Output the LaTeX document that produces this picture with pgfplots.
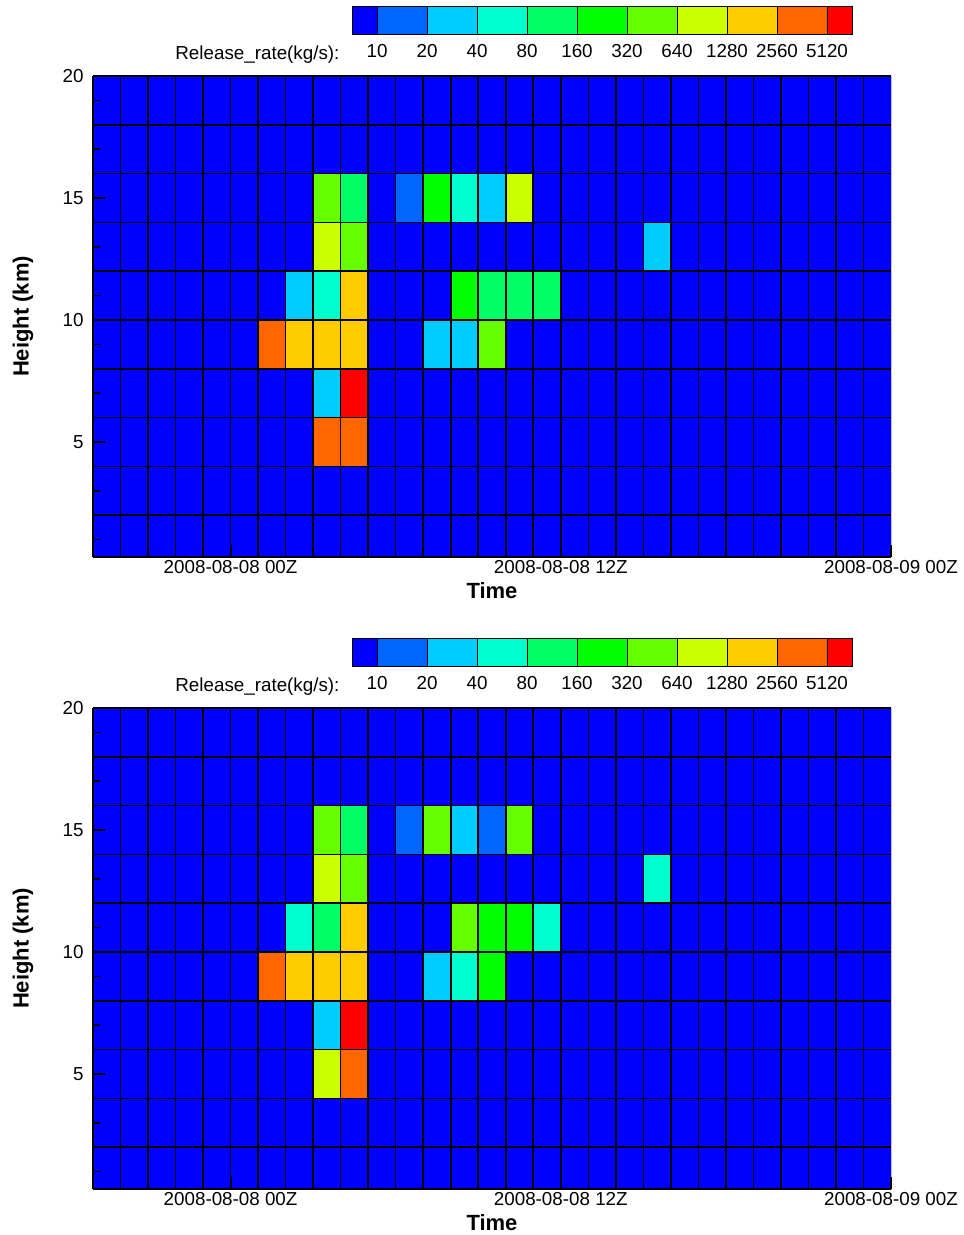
\documentclass[border=0pt]{standalone}
\usepackage{pgfplots}
\pgfplotsset{compat=1.18}
\usepackage{fontspec}
\setmainfont{Liberation Sans}

% release-rate classes: 0 = <10, k = 10*2^(k-1) .. 10*2^k kg/s, 10 = >5120
\pgfplotsset{
  relmap/.style={
    colormap={rel}{rgb255=(0,0,255) rgb255=(0,102,255) rgb255=(0,204,255)
      rgb255=(0,255,204) rgb255=(0,255,102) rgb255=(0,255,0) rgb255=(102,255,0)
      rgb255=(204,255,0) rgb255=(255,204,0) rgb255=(255,102,0) rgb255=(255,0,0)},
    colormap access=direct},
  mainax/.style={
    relmap,
    width=798pt, height=481pt, scale only axis,
    xmin=-5, xmax=24, ymin=0.29, ymax=20,
    axis x line=bottom, axis y line=left,
    axis line style={-, line width=2pt, black},
    tick align=inside,
    xtick={0,12,24},
    xticklabels={2008-08-08 00Z, 2008-08-08 12Z, 2008-08-09 00Z},
    minor xtick={-4,-2,...,22},
    ytick={5,10,15,20}, yticklabels={5,10,15,20},
    minor ytick={1,2,...,19},
    major tick length=12pt, minor tick length=6.5pt,
    every major tick/.append style={line width=2pt, black},
    every minor tick/.append style={line width=1.5pt, black},
    extra x ticks={-4,-3,...,23}, extra y ticks={2,4,...,20},
    extra x tick labels={}, extra y tick labels={},
    extra tick style={grid=major, major tick length=0pt},
    major grid style={black, line width=1.6pt},
    axis on top,
    tick label style={font=\fontsize{18.8}{22}\selectfont},
    /pgf/number format/assume math mode=true,
    yticklabel style={xshift=-6pt},
    xlabel={Time}, ylabel={Height (km)},
    xlabel style={font=\bfseries\fontsize{22}{26}\selectfont,
      at={(axis description cs:0.5,-0.0696)}, anchor=center},
    ylabel style={font=\bfseries\fontsize{22}{26}\selectfont,
      at={(axis description cs:-0.0877,0.5)}, anchor=center},
  },
  cbar/.style={
    relmap,
    width=500pt, height=28pt, scale only axis,
    xmin=0.5, xmax=10.5, ymin=0, ymax=1,
    xtick={1,...,10},
    xticklabels={10,20,40,80,160,320,640,1280,2560,5120},
    ytick=\empty, major tick length=0pt,
    xmajorgrids, major grid style={black, line width=1pt},
    axis line style={line width=1pt, black},
    axis on top,
    tick label style={font=\fontsize{18.8}{22}\selectfont},
    xticklabel style={yshift=-5.5pt},
  },
}

\begin{document}
\begin{tikzpicture}
\useasboundingbox (0pt,0pt) rectangle (964pt,1235pt);

% ---------------- upper panel ----------------
\begin{axis}[cbar, at={(352pt,1200pt)}, anchor=south west]
\addplot[matrix plot*, mesh/cols=11, point meta=explicit] coordinates {
(0.5,0.25)[0] (1.5,0.25)[1] (2.5,0.25)[2] (3.5,0.25)[3] (4.5,0.25)[4] (5.5,0.25)[5] (6.5,0.25)[6] (7.5,0.25)[7] (8.5,0.25)[8] (9.5,0.25)[9] (10.5,0.25)[10]
(0.5,0.75)[0] (1.5,0.75)[1] (2.5,0.75)[2] (3.5,0.75)[3] (4.5,0.75)[4] (5.5,0.75)[5] (6.5,0.75)[6] (7.5,0.75)[7] (8.5,0.75)[8] (9.5,0.75)[9] (10.5,0.75)[10]
};
\end{axis}
\node[anchor=base east, font=\fontsize{18.8}{22}\selectfont] at (343pt,1175pt) {Release\_rate(kg/s):};

\begin{axis}[mainax, at={(93pt,678pt)}, anchor=south west]
\addplot[matrix plot*, mesh/cols=29, point meta=explicit] coordinates {
(-4.5,1)[0] (-3.5,1)[0] (-2.5,1)[0] (-1.5,1)[0] (-0.5,1)[0] (0.5,1)[0] (1.5,1)[0] (2.5,1)[0] (3.5,1)[0] (4.5,1)[0] (5.5,1)[0] (6.5,1)[0] (7.5,1)[0] (8.5,1)[0] (9.5,1)[0] (10.5,1)[0] (11.5,1)[0] (12.5,1)[0] (13.5,1)[0] (14.5,1)[0] (15.5,1)[0] (16.5,1)[0] (17.5,1)[0] (18.5,1)[0] (19.5,1)[0] (20.5,1)[0] (21.5,1)[0] (22.5,1)[0] (23.5,1)[0]
(-4.5,3)[0] (-3.5,3)[0] (-2.5,3)[0] (-1.5,3)[0] (-0.5,3)[0] (0.5,3)[0] (1.5,3)[0] (2.5,3)[0] (3.5,3)[0] (4.5,3)[0] (5.5,3)[0] (6.5,3)[0] (7.5,3)[0] (8.5,3)[0] (9.5,3)[0] (10.5,3)[0] (11.5,3)[0] (12.5,3)[0] (13.5,3)[0] (14.5,3)[0] (15.5,3)[0] (16.5,3)[0] (17.5,3)[0] (18.5,3)[0] (19.5,3)[0] (20.5,3)[0] (21.5,3)[0] (22.5,3)[0] (23.5,3)[0]
(-4.5,5)[0] (-3.5,5)[0] (-2.5,5)[0] (-1.5,5)[0] (-0.5,5)[0] (0.5,5)[0] (1.5,5)[0] (2.5,5)[0] (3.5,5)[9] (4.5,5)[9] (5.5,5)[0] (6.5,5)[0] (7.5,5)[0] (8.5,5)[0] (9.5,5)[0] (10.5,5)[0] (11.5,5)[0] (12.5,5)[0] (13.5,5)[0] (14.5,5)[0] (15.5,5)[0] (16.5,5)[0] (17.5,5)[0] (18.5,5)[0] (19.5,5)[0] (20.5,5)[0] (21.5,5)[0] (22.5,5)[0] (23.5,5)[0]
(-4.5,7)[0] (-3.5,7)[0] (-2.5,7)[0] (-1.5,7)[0] (-0.5,7)[0] (0.5,7)[0] (1.5,7)[0] (2.5,7)[0] (3.5,7)[2] (4.5,7)[10] (5.5,7)[0] (6.5,7)[0] (7.5,7)[0] (8.5,7)[0] (9.5,7)[0] (10.5,7)[0] (11.5,7)[0] (12.5,7)[0] (13.5,7)[0] (14.5,7)[0] (15.5,7)[0] (16.5,7)[0] (17.5,7)[0] (18.5,7)[0] (19.5,7)[0] (20.5,7)[0] (21.5,7)[0] (22.5,7)[0] (23.5,7)[0]
(-4.5,9)[0] (-3.5,9)[0] (-2.5,9)[0] (-1.5,9)[0] (-0.5,9)[0] (0.5,9)[0] (1.5,9)[9] (2.5,9)[8] (3.5,9)[8] (4.5,9)[8] (5.5,9)[0] (6.5,9)[0] (7.5,9)[2] (8.5,9)[2] (9.5,9)[6] (10.5,9)[0] (11.5,9)[0] (12.5,9)[0] (13.5,9)[0] (14.5,9)[0] (15.5,9)[0] (16.5,9)[0] (17.5,9)[0] (18.5,9)[0] (19.5,9)[0] (20.5,9)[0] (21.5,9)[0] (22.5,9)[0] (23.5,9)[0]
(-4.5,11)[0] (-3.5,11)[0] (-2.5,11)[0] (-1.5,11)[0] (-0.5,11)[0] (0.5,11)[0] (1.5,11)[0] (2.5,11)[2] (3.5,11)[3] (4.5,11)[8] (5.5,11)[0] (6.5,11)[0] (7.5,11)[0] (8.5,11)[5] (9.5,11)[4] (10.5,11)[4] (11.5,11)[4] (12.5,11)[0] (13.5,11)[0] (14.5,11)[0] (15.5,11)[0] (16.5,11)[0] (17.5,11)[0] (18.5,11)[0] (19.5,11)[0] (20.5,11)[0] (21.5,11)[0] (22.5,11)[0] (23.5,11)[0]
(-4.5,13)[0] (-3.5,13)[0] (-2.5,13)[0] (-1.5,13)[0] (-0.5,13)[0] (0.5,13)[0] (1.5,13)[0] (2.5,13)[0] (3.5,13)[7] (4.5,13)[6] (5.5,13)[0] (6.5,13)[0] (7.5,13)[0] (8.5,13)[0] (9.5,13)[0] (10.5,13)[0] (11.5,13)[0] (12.5,13)[0] (13.5,13)[0] (14.5,13)[0] (15.5,13)[2] (16.5,13)[0] (17.5,13)[0] (18.5,13)[0] (19.5,13)[0] (20.5,13)[0] (21.5,13)[0] (22.5,13)[0] (23.5,13)[0]
(-4.5,15)[0] (-3.5,15)[0] (-2.5,15)[0] (-1.5,15)[0] (-0.5,15)[0] (0.5,15)[0] (1.5,15)[0] (2.5,15)[0] (3.5,15)[6] (4.5,15)[4] (5.5,15)[0] (6.5,15)[1] (7.5,15)[5] (8.5,15)[3] (9.5,15)[2] (10.5,15)[7] (11.5,15)[0] (12.5,15)[0] (13.5,15)[0] (14.5,15)[0] (15.5,15)[0] (16.5,15)[0] (17.5,15)[0] (18.5,15)[0] (19.5,15)[0] (20.5,15)[0] (21.5,15)[0] (22.5,15)[0] (23.5,15)[0]
(-4.5,17)[0] (-3.5,17)[0] (-2.5,17)[0] (-1.5,17)[0] (-0.5,17)[0] (0.5,17)[0] (1.5,17)[0] (2.5,17)[0] (3.5,17)[0] (4.5,17)[0] (5.5,17)[0] (6.5,17)[0] (7.5,17)[0] (8.5,17)[0] (9.5,17)[0] (10.5,17)[0] (11.5,17)[0] (12.5,17)[0] (13.5,17)[0] (14.5,17)[0] (15.5,17)[0] (16.5,17)[0] (17.5,17)[0] (18.5,17)[0] (19.5,17)[0] (20.5,17)[0] (21.5,17)[0] (22.5,17)[0] (23.5,17)[0]
(-4.5,19)[0] (-3.5,19)[0] (-2.5,19)[0] (-1.5,19)[0] (-0.5,19)[0] (0.5,19)[0] (1.5,19)[0] (2.5,19)[0] (3.5,19)[0] (4.5,19)[0] (5.5,19)[0] (6.5,19)[0] (7.5,19)[0] (8.5,19)[0] (9.5,19)[0] (10.5,19)[0] (11.5,19)[0] (12.5,19)[0] (13.5,19)[0] (14.5,19)[0] (15.5,19)[0] (16.5,19)[0] (17.5,19)[0] (18.5,19)[0] (19.5,19)[0] (20.5,19)[0] (21.5,19)[0] (22.5,19)[0] (23.5,19)[0]
};
\end{axis}

% ---------------- lower panel ----------------
\begin{axis}[cbar, at={(352pt,568pt)}, anchor=south west]
\addplot[matrix plot*, mesh/cols=11, point meta=explicit] coordinates {
(0.5,0.25)[0] (1.5,0.25)[1] (2.5,0.25)[2] (3.5,0.25)[3] (4.5,0.25)[4] (5.5,0.25)[5] (6.5,0.25)[6] (7.5,0.25)[7] (8.5,0.25)[8] (9.5,0.25)[9] (10.5,0.25)[10]
(0.5,0.75)[0] (1.5,0.75)[1] (2.5,0.75)[2] (3.5,0.75)[3] (4.5,0.75)[4] (5.5,0.75)[5] (6.5,0.75)[6] (7.5,0.75)[7] (8.5,0.75)[8] (9.5,0.75)[9] (10.5,0.75)[10]
};
\end{axis}
\node[anchor=base east, font=\fontsize{18.8}{22}\selectfont] at (343pt,543pt) {Release\_rate(kg/s):};

\begin{axis}[mainax, at={(93pt,46pt)}, anchor=south west]
\addplot[matrix plot*, mesh/cols=29, point meta=explicit] coordinates {
(-4.5,1)[0] (-3.5,1)[0] (-2.5,1)[0] (-1.5,1)[0] (-0.5,1)[0] (0.5,1)[0] (1.5,1)[0] (2.5,1)[0] (3.5,1)[0] (4.5,1)[0] (5.5,1)[0] (6.5,1)[0] (7.5,1)[0] (8.5,1)[0] (9.5,1)[0] (10.5,1)[0] (11.5,1)[0] (12.5,1)[0] (13.5,1)[0] (14.5,1)[0] (15.5,1)[0] (16.5,1)[0] (17.5,1)[0] (18.5,1)[0] (19.5,1)[0] (20.5,1)[0] (21.5,1)[0] (22.5,1)[0] (23.5,1)[0]
(-4.5,3)[0] (-3.5,3)[0] (-2.5,3)[0] (-1.5,3)[0] (-0.5,3)[0] (0.5,3)[0] (1.5,3)[0] (2.5,3)[0] (3.5,3)[0] (4.5,3)[0] (5.5,3)[0] (6.5,3)[0] (7.5,3)[0] (8.5,3)[0] (9.5,3)[0] (10.5,3)[0] (11.5,3)[0] (12.5,3)[0] (13.5,3)[0] (14.5,3)[0] (15.5,3)[0] (16.5,3)[0] (17.5,3)[0] (18.5,3)[0] (19.5,3)[0] (20.5,3)[0] (21.5,3)[0] (22.5,3)[0] (23.5,3)[0]
(-4.5,5)[0] (-3.5,5)[0] (-2.5,5)[0] (-1.5,5)[0] (-0.5,5)[0] (0.5,5)[0] (1.5,5)[0] (2.5,5)[0] (3.5,5)[7] (4.5,5)[9] (5.5,5)[0] (6.5,5)[0] (7.5,5)[0] (8.5,5)[0] (9.5,5)[0] (10.5,5)[0] (11.5,5)[0] (12.5,5)[0] (13.5,5)[0] (14.5,5)[0] (15.5,5)[0] (16.5,5)[0] (17.5,5)[0] (18.5,5)[0] (19.5,5)[0] (20.5,5)[0] (21.5,5)[0] (22.5,5)[0] (23.5,5)[0]
(-4.5,7)[0] (-3.5,7)[0] (-2.5,7)[0] (-1.5,7)[0] (-0.5,7)[0] (0.5,7)[0] (1.5,7)[0] (2.5,7)[0] (3.5,7)[2] (4.5,7)[10] (5.5,7)[0] (6.5,7)[0] (7.5,7)[0] (8.5,7)[0] (9.5,7)[0] (10.5,7)[0] (11.5,7)[0] (12.5,7)[0] (13.5,7)[0] (14.5,7)[0] (15.5,7)[0] (16.5,7)[0] (17.5,7)[0] (18.5,7)[0] (19.5,7)[0] (20.5,7)[0] (21.5,7)[0] (22.5,7)[0] (23.5,7)[0]
(-4.5,9)[0] (-3.5,9)[0] (-2.5,9)[0] (-1.5,9)[0] (-0.5,9)[0] (0.5,9)[0] (1.5,9)[9] (2.5,9)[8] (3.5,9)[8] (4.5,9)[8] (5.5,9)[0] (6.5,9)[0] (7.5,9)[2] (8.5,9)[3] (9.5,9)[5] (10.5,9)[0] (11.5,9)[0] (12.5,9)[0] (13.5,9)[0] (14.5,9)[0] (15.5,9)[0] (16.5,9)[0] (17.5,9)[0] (18.5,9)[0] (19.5,9)[0] (20.5,9)[0] (21.5,9)[0] (22.5,9)[0] (23.5,9)[0]
(-4.5,11)[0] (-3.5,11)[0] (-2.5,11)[0] (-1.5,11)[0] (-0.5,11)[0] (0.5,11)[0] (1.5,11)[0] (2.5,11)[3] (3.5,11)[4] (4.5,11)[8] (5.5,11)[0] (6.5,11)[0] (7.5,11)[0] (8.5,11)[6] (9.5,11)[5] (10.5,11)[5] (11.5,11)[3] (12.5,11)[0] (13.5,11)[0] (14.5,11)[0] (15.5,11)[0] (16.5,11)[0] (17.5,11)[0] (18.5,11)[0] (19.5,11)[0] (20.5,11)[0] (21.5,11)[0] (22.5,11)[0] (23.5,11)[0]
(-4.5,13)[0] (-3.5,13)[0] (-2.5,13)[0] (-1.5,13)[0] (-0.5,13)[0] (0.5,13)[0] (1.5,13)[0] (2.5,13)[0] (3.5,13)[7] (4.5,13)[6] (5.5,13)[0] (6.5,13)[0] (7.5,13)[0] (8.5,13)[0] (9.5,13)[0] (10.5,13)[0] (11.5,13)[0] (12.5,13)[0] (13.5,13)[0] (14.5,13)[0] (15.5,13)[3] (16.5,13)[0] (17.5,13)[0] (18.5,13)[0] (19.5,13)[0] (20.5,13)[0] (21.5,13)[0] (22.5,13)[0] (23.5,13)[0]
(-4.5,15)[0] (-3.5,15)[0] (-2.5,15)[0] (-1.5,15)[0] (-0.5,15)[0] (0.5,15)[0] (1.5,15)[0] (2.5,15)[0] (3.5,15)[6] (4.5,15)[4] (5.5,15)[0] (6.5,15)[1] (7.5,15)[6] (8.5,15)[2] (9.5,15)[1] (10.5,15)[6] (11.5,15)[0] (12.5,15)[0] (13.5,15)[0] (14.5,15)[0] (15.5,15)[0] (16.5,15)[0] (17.5,15)[0] (18.5,15)[0] (19.5,15)[0] (20.5,15)[0] (21.5,15)[0] (22.5,15)[0] (23.5,15)[0]
(-4.5,17)[0] (-3.5,17)[0] (-2.5,17)[0] (-1.5,17)[0] (-0.5,17)[0] (0.5,17)[0] (1.5,17)[0] (2.5,17)[0] (3.5,17)[0] (4.5,17)[0] (5.5,17)[0] (6.5,17)[0] (7.5,17)[0] (8.5,17)[0] (9.5,17)[0] (10.5,17)[0] (11.5,17)[0] (12.5,17)[0] (13.5,17)[0] (14.5,17)[0] (15.5,17)[0] (16.5,17)[0] (17.5,17)[0] (18.5,17)[0] (19.5,17)[0] (20.5,17)[0] (21.5,17)[0] (22.5,17)[0] (23.5,17)[0]
(-4.5,19)[0] (-3.5,19)[0] (-2.5,19)[0] (-1.5,19)[0] (-0.5,19)[0] (0.5,19)[0] (1.5,19)[0] (2.5,19)[0] (3.5,19)[0] (4.5,19)[0] (5.5,19)[0] (6.5,19)[0] (7.5,19)[0] (8.5,19)[0] (9.5,19)[0] (10.5,19)[0] (11.5,19)[0] (12.5,19)[0] (13.5,19)[0] (14.5,19)[0] (15.5,19)[0] (16.5,19)[0] (17.5,19)[0] (18.5,19)[0] (19.5,19)[0] (20.5,19)[0] (21.5,19)[0] (22.5,19)[0] (23.5,19)[0]
};
\end{axis}
\end{tikzpicture}
\end{document}
